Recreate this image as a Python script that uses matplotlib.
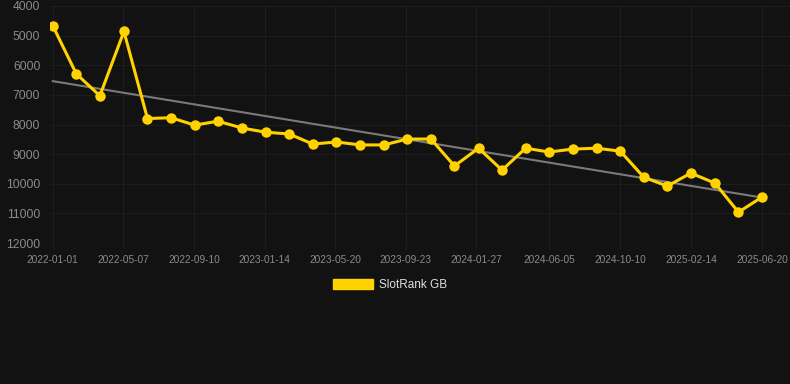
#!/usr/bin/env python3
"""SlotRank GB history: rank over time with a linear trend line."""

import matplotlib
matplotlib.use('Agg')
from matplotlib import pyplot as plt
import matplotlib.dates as mdates
from matplotlib.patches import Patch
import numpy as np
import pandas as pd

dates = [
    '2022-01-01', '2022-02-12', '2022-03-26', '2022-05-08', '2022-06-19',
    '2022-07-31', '2022-09-11', '2022-10-23', '2022-12-05', '2023-01-16',
    '2023-02-27', '2023-04-10', '2023-05-22', '2023-07-04', '2023-08-15',
    '2023-09-26', '2023-11-07', '2023-12-19', '2024-01-31', '2024-03-13',
    '2024-04-24', '2024-06-05', '2024-07-17', '2024-08-29', '2024-10-10',
    '2024-11-21', '2025-01-02', '2025-02-13', '2025-03-28', '2025-05-09',
    '2025-06-20',
]
ranks = [
    4670, 6290, 7030, 4860, 7800,
    7770, 8020, 7890, 8120, 8260,
    8320, 8660, 8590, 8690, 8690,
    8490, 8490, 9400, 8800, 9540,
    8800, 8930, 8830, 8800, 8900,
    9780, 10080, 9640, 9980, 10960,
    10450,
]
tick_dates = [
    '2022-01-01', '2022-05-07', '2022-09-10', '2023-01-14', '2023-05-20',
    '2023-09-23', '2024-01-27', '2024-06-05', '2024-10-10', '2025-02-14',
    '2025-06-20',
]
y_ticks = [4000, 5000, 6000, 7000, 8000, 9000, 10000, 11000, 12000]

BG = '#121212'
YELLOW = '#ffd200'


def main():
    x = pd.to_datetime(dates)
    xn = mdates.date2num(x)
    y = np.array(ranks)

    # least squares trend line
    slope, icpt = np.polyfit(xn, y, 1)
    trend = slope * xn + icpt

    plt.rcParams['font.family'] = ['Liberation Sans', 'DejaVu Sans']
    fig = plt.figure(figsize=(7.9, 3.84), dpi=100, facecolor=BG)
    ax = fig.add_axes([50 / 790, 1 - 243 / 384, 740 / 790, 237 / 384])
    ax.set_facecolor(BG)

    ax.plot(x, trend, color='#7a7a7a', lw=1.5, zorder=2)
    ax.plot(x, y, color=YELLOW, lw=2.2, marker='o', ms=7.5,
            markeredgewidth=0, zorder=3)

    ax.set_ylim(12000, 4000)
    ax.set_yticks(y_ticks)
    ax.set_yticklabels([str(v) for v in y_ticks])
    xt = pd.to_datetime(tick_dates)
    ax.set_xticks(xt)
    ax.set_xticklabels(tick_dates)
    ax.set_xlim(mdates.date2num(pd.Timestamp('2021-12-27')),
                mdates.date2num(pd.Timestamp('2025-08-09')))

    ax.grid(True, color='#1d1d1d', lw=0.8, zorder=0)
    for sp in ax.spines.values():
        sp.set_visible(False)
    ax.tick_params(axis='y', length=0, pad=7, labelsize=8.8, labelcolor='#8a8a8a')
    ax.tick_params(axis='x', length=4, width=0.8, color='#1d1d1d', pad=4.5,
                   labelsize=7.3, labelcolor='#8a8a8a')

    handle = Patch(facecolor=YELLOW, edgecolor=YELLOW)
    fig.legend([handle], ['SlotRank GB'], loc='center',
               bbox_to_anchor=(390 / 790, 1 - 285 / 384), frameon=False,
               handlelength=3.4, handleheight=1.0, handletextpad=0.5,
               fontsize=8.5, labelcolor='#e0e0e0')

    fig.savefig('out.png', dpi=100, facecolor=BG)


if __name__ == '__main__':
    main()
